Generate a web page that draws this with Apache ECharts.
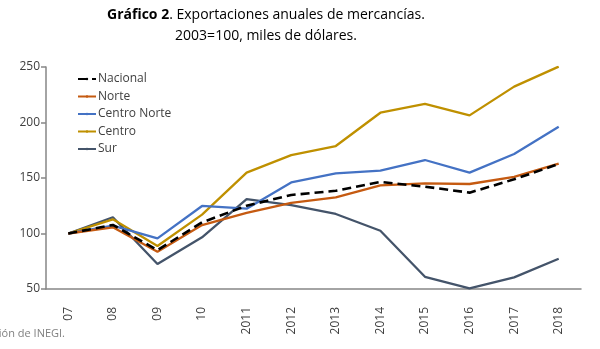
<!DOCTYPE html>
<html>
<head>
<meta charset="utf-8">
<script src="https://cdn.jsdelivr.net/npm/echarts@6/dist/echarts.min.js"></script>
<style>
  html, body { margin: 0; padding: 0; background: #fff; }
  #chart { width: 600px; height: 349px; }
</style>
</head>
<body>
<div id="chart"></div>
<script>
// Annual merchandise exports by region, index 2003 = 100
const years = ['07', '08', '09', '10', '2011', '2012', '2013', '2014', '2015', '2016', '2017', '2018'];
const nacional = [100, 107.7, 85, 110, 125, 134.7, 138.5, 146.4, 142.2, 136.8, 148.8, 162.6];
const norte = [100, 105.6, 83.6, 107.6, 118.5, 127.6, 132.6, 143.4, 145.2, 144.6, 151, 163];
const centroNorte = [100, 107, 95.6, 124.8, 122.4, 146, 154.2, 156.6, 166.2, 154.8, 171.6, 196.2];
const centro = [100, 112.8, 88.7, 117, 154.8, 170.6, 178.8, 208.8, 216.7, 206.4, 232.3, 250.3];
const sur = [100, 114.6, 72.5, 96.6, 131, 125.6, 117.6, 102.5, 61, 50.6, 60.5, 77.3];
const yTicks = { min: 50, max: 250, step: 50 };

const font = '"Open Sans", "Noto Sans", sans-serif';
const axisColor = '#868686';

const chart = echarts.init(document.getElementById('chart'), null, { renderer: 'canvas' });

function line(name, data, color, dashed) {
  return {
    name: name,
    type: 'line',
    data: data,
    symbol: 'none',
    lineStyle: {
      color: color,
      width: dashed ? 2.6 : 2.3,
      type: dashed ? [9, 5] : 'solid'
    },
    itemStyle: { color: color },
    z: dashed ? 3 : 2,
    animation: false
  };
}

chart.setOption({
  animation: false,
  backgroundColor: '#ffffff',
  title: {
    text: '{b|Gráfico 2}. Exportaciones anuales de mercancías.\n2003=100, miles de dólares.',
    left: 261,
    textAlign: 'center',
    top: 0,
    textStyle: {
      fontFamily: font,
      fontSize: 14,
      fontWeight: 'normal',
      color: '#000',
      lineHeight: 21,
      rich: {
        b: { fontFamily: font, fontSize: 14, fontWeight: 'bold', color: '#000', lineHeight: 21 }
      }
    }
  },
  legend: {
    orient: 'vertical',
    left: 72,
    top: 68,
    itemWidth: 18,
    itemHeight: 3,
    itemGap: 5.5,
    textStyle: { fontFamily: font, fontSize: 12, color: '#404040', padding: [0, 0, 0, -3] },
    data: ['Nacional', 'Norte', 'Centro Norte', 'Centro', 'Sur']
  },
  grid: { left: 46, right: 19, top: 67, bottom: 60, containLabel: false },
  xAxis: {
    type: 'category',
    data: years,
    boundaryGap: true,
    axisLine: { lineStyle: { color: axisColor, width: 1.5 } },
    axisTick: { length: 6, lineStyle: { color: '#555', width: 1.5 } },
    axisLabel: { rotate: 90, margin: 18, fontFamily: font, fontSize: 12, color: '#404040' },
    splitLine: { show: false }
  },
  yAxis: {
    type: 'value',
    min: yTicks.min,
    max: yTicks.max,
    interval: yTicks.step,
    axisLine: { show: true, lineStyle: { color: axisColor, width: 1.5 } },
    axisTick: { show: true, length: 5, lineStyle: { color: axisColor, width: 1.5 } },
    axisLabel: { margin: 6, fontFamily: font, fontSize: 12, color: '#404040' },
    splitLine: { show: false }
  },
  graphic: [{
    type: 'text',
    right: 535,
    top: 328,
    style: {
      text: 'Elaboración propia con información de INEGI.',
      fontFamily: font,
      fontSize: 11,
      fill: '#808080'
    }
  }],
  series: [
    line('Sur', sur, '#44546A', false),
    line('Centro', centro, '#BF9000', false),
    line('Centro Norte', centroNorte, '#4472C4', false),
    line('Norte', norte, '#C55A11', false),
    line('Nacional', nacional, '#000000', true)
  ]
});
</script>
</body>
</html>
